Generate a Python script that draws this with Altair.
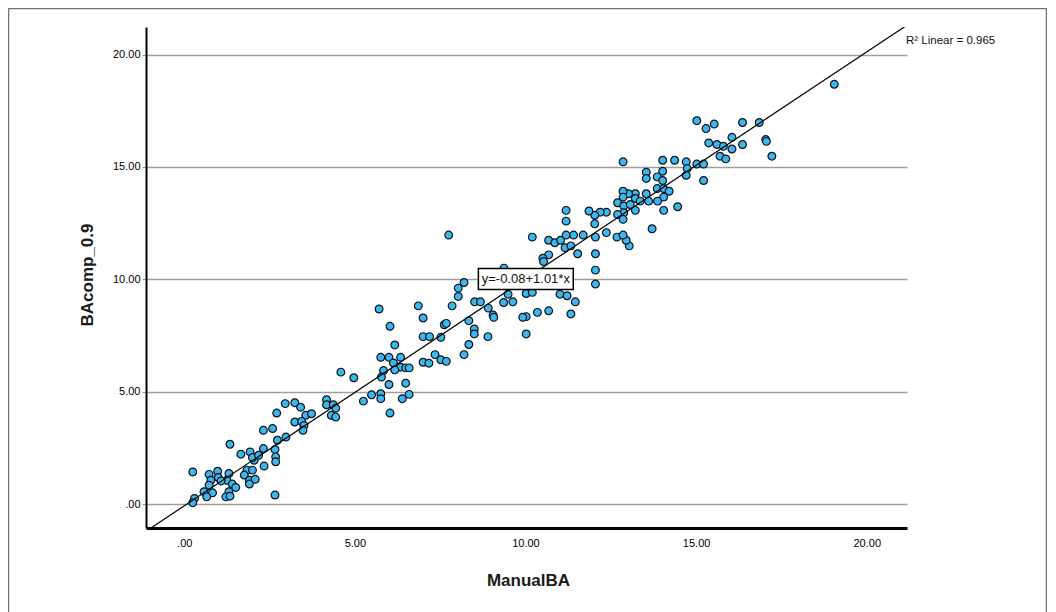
import altair as alt
import pandas as pd

# ManualBA (x) and BAcomp_0.9 (y) values
manual_ba = [
    4.59, 4.97, 4.17, 4.17, 4.37, 4.44, 4.31, 4.44, 2.96, 3.24, 3.41, 2.71, 3.56, 3.73,
    3.24, 3.44, 3.51, 3.48, 2.32, 2.59, 2.98, 2.73, 1.34, 1.66, 1.93, 2.32, 2.66, 2.68,
    2.68, 2.05, 2.00, 2.18, 2.34, 1.84, 2.00, 1.76, 1.91, 2.08, 1.91, 0.25, 0.73, 0.98,
    1.00, 1.31, 1.25, 0.78, 0.73, 1.08, 1.41, 1.51, 1.31, 0.58, 0.83, 0.66, 1.22, 1.34,
    2.66, 0.30, 0.25,
    7.75, 10.20, 10.68, 10.86, 11.03, 11.19, 11.41, 11.69, 12.05, 12.37, 12.68, 11.16,
    11.33, 11.53, 12.05, 10.68, 10.51, 10.53, 9.37, 12.05, 12.05, 8.20, 8.03, 8.03, 9.49,
    10.02, 10.20, 11.01, 11.22, 11.46, 11.33, 10.68, 10.35, 10.02, 9.92, 10.02, 9.36,
    9.63, 8.51, 8.68, 8.91, 9.05, 9.07, 7.85, 6.86, 5.71, 7.00, 7.62, 7.68, 8.34, 6.03,
    8.50, 8.50, 7.00, 7.19, 7.52, 8.90, 8.34, 6.17, 8.20, 7.35, 7.52, 7.68, 7.00, 7.17,
    5.76, 6.00, 6.34, 6.13, 6.34, 6.17, 6.49, 6.59, 5.84, 5.78, 6.49, 6.00, 6.59, 6.39,
    5.76, 5.76, 5.49, 5.25, 6.03,
    19.05, 15.02, 15.29, 15.53, 16.36, 16.85, 16.05, 17.04, 17.06, 17.22, 16.36, 16.05,
    15.37, 15.61, 15.80, 15.70, 15.87, 12.86, 14.02, 14.37, 14.71, 15.02, 15.22, 14.74,
    14.71, 15.22, 13.54, 13.54, 14.02, 13.86, 14.02, 13.86, 14.05, 14.21, 14.05, 14.05,
    14.46, 13.71, 13.54, 13.87, 13.61, 13.22, 13.02, 12.86, 12.86, 13.22, 13.36, 12.70,
    12.88, 13.07, 13.22, 12.88, 12.70, 12.86, 13.04, 12.95, 12.86, 12.37, 12.19, 12.03,
    12.03, 11.86, 11.19, 11.19,
]
bacomp_09 = [
    5.87, 5.62, 4.64, 4.42, 4.42, 4.27, 3.95, 3.87, 4.47, 4.51, 4.31, 4.05, 3.95, 4.02,
    3.65, 3.68, 3.50, 3.28, 3.28, 3.36, 2.98, 2.84, 2.66, 2.22, 2.32, 2.47, 2.43, 2.10,
    1.88, 1.95, 2.07, 2.17, 1.69, 1.51, 1.51, 1.29, 1.06, 1.10, 0.89, 1.43, 1.32, 1.46,
    1.18, 1.36, 1.06, 1.06, 0.84, 1.03, 0.89, 0.74, 0.55, 0.55, 0.50, 0.32, 0.32, 0.35,
    0.40, 0.25, 0.06,
    11.97, 11.88, 11.74, 11.63, 11.74, 11.97, 11.97, 11.97, 11.88, 12.08, 11.88, 11.41,
    11.49, 11.14, 11.14, 11.09, 10.94, 10.79, 10.50, 10.41, 9.79, 9.86, 9.61, 9.24, 9.34,
    9.37, 9.42, 9.34, 9.27, 9.00, 8.46, 8.60, 8.53, 8.34, 8.31, 7.57, 8.97,
    9.00, 9.00, 9.00, 8.72, 8.41, 8.31, 8.82, 8.82, 8.68, 8.28, 7.98, 8.04, 8.16, 7.91,
    7.79, 7.57, 7.45, 7.45, 7.42, 7.45, 7.10, 7.08, 6.65, 6.65, 6.42, 6.35, 6.31, 6.27,
    6.53, 6.53, 6.53, 6.28, 6.09, 5.97, 6.06, 6.06, 5.94, 5.65, 5.38, 5.32, 4.88, 4.69,
    4.91, 4.69, 4.86, 4.58, 4.05,
    18.68, 17.06, 16.71, 16.91, 16.98, 16.98, 16.32, 16.22, 16.14, 15.48, 16.00, 15.80,
    16.07, 16.00, 15.92, 15.48, 15.36, 15.23, 15.30, 15.30, 15.23, 15.13, 15.13, 14.93,
    14.63, 14.40, 14.77, 14.49, 14.81, 14.56, 14.40, 14.04, 14.04, 13.92, 13.66, 13.07,
    13.23, 12.25, 13.81, 13.48, 13.48, 13.81, 13.81, 13.92, 13.66, 13.60, 13.48, 13.41,
    13.26, 13.33, 13.07, 12.96, 12.89, 12.67, 11.49, 11.74, 11.97, 12.99, 12.99, 12.85,
    12.47, 13.04, 13.07, 12.59,
]

# Fit line as stated on the chart
intercept = -0.08
slope = 1.01
r2_text = "R\u00b2 Linear = 0.965"
eq_text = "y=-0.08+1.01*x"
ticks = [0, 5, 10, 15, 20]

x_dom = [-1.12, 21.18]
y_dom = [-1.066, 21.23]

W, H = 761, 501
PAD = {"left": 138, "top": 19, "right": 140, "bottom": 84}

pts = pd.DataFrame({"manual": manual_ba, "comp": bacomp_09})
line_x = [-1.3, 21.6]
line_df = pd.DataFrame({"manual": line_x, "comp": [intercept + slope * v for v in line_x]})

label_expr = "datum.value == 0 ? '.00' : format(datum.value, '.2f')"

xscale = alt.Scale(domain=x_dom, nice=False, zero=False)
yscale = alt.Scale(domain=y_dom, nice=False, zero=False)

x_enc = alt.X(
    "manual:Q", scale=xscale,
    axis=alt.Axis(
        values=ticks, labelExpr=label_expr, ticks=False, grid=False,
        domainColor="#000000", domainWidth=3, labelFontSize=11, labelColor="#000000",
        labelFont="Liberation Sans", labelPadding=9,
        title="ManualBA", titleFontSize=17, titleFontWeight="bold", titleFont="Liberation Sans",
        titleColor="#1a1a1a", titleX=382, titleY=52, titleBaseline="middle", titleAlign="center",
    ),
)
y_enc = alt.Y(
    "comp:Q", scale=yscale,
    axis=alt.Axis(
        values=ticks, labelExpr=label_expr, ticks=True, tickSize=4, tickColor="#9e9e9e",
        grid=True, gridColor="#9e9e9e", gridWidth=1.5,
        domainColor="#000000", domainWidth=2, labelFontSize=11, labelColor="#000000",
        labelFont="Liberation Sans", labelPadding=2,
        title="BAcomp_0.9", titleFontSize=17, titleFontWeight="bold", titleFont="Liberation Sans",
        titleColor="#1a1a1a", titleX=-59, titleY=H / 2 - 3, titleAngle=-90,
        titleBaseline="middle", titleAlign="center",
    ),
)

points = alt.Chart(pts).mark_point(
    filled=True, shape="circle", size=60, fill="#3db6ee", stroke="#0b121a",
    strokeWidth=1.2, opacity=1,
).encode(x=x_enc, y=y_enc)

fit = alt.Chart(line_df).mark_line(color="#000000", strokeWidth=1.2, clip=True).encode(
    x=alt.X("manual:Q", scale=xscale),
    y=alt.Y("comp:Q", scale=yscale),
)

box_df = pd.DataFrame({"x1": [8.62], "x2": [11.40], "y1": [9.55], "y2": [10.48],
                       "tx": [10.01], "ty": [10.0], "t": [eq_text]})
box = alt.Chart(box_df).mark_rect(fill="white", stroke="#000000", strokeWidth=1.5).encode(
    x=alt.X("x1:Q", scale=xscale), x2="x2:Q",
    y=alt.Y("y1:Q", scale=yscale), y2="y2:Q",
)
box_text = alt.Chart(box_df).mark_text(
    fontSize=13, font="Liberation Sans", color="#111111", align="center", baseline="middle"
).encode(
    x=alt.X("tx:Q", scale=xscale), y=alt.Y("ty:Q", scale=yscale), text="t:N"
)

one = pd.DataFrame({"t": [r2_text]})
r2 = alt.Chart(one).mark_text(
    fontSize=11.5, font="Liberation Sans", color="#111111", align="left", baseline="middle"
).encode(x=alt.value(760), y=alt.value(14), text="t:N")

frame_color = "#707070"
frame_top = alt.Chart(one).mark_rule(color=frame_color, strokeWidth=1.5).encode(
    x=alt.value(-137.5), x2=alt.value(W + 139.5), y=alt.value(-18.5)
)
frame_left = alt.Chart(one).mark_rule(color=frame_color, strokeWidth=1.5).encode(
    x=alt.value(-137.5), y=alt.value(-18.5), y2=alt.value(H + 90)
)
frame_right = alt.Chart(one).mark_rule(color=frame_color, strokeWidth=1.5).encode(
    x=alt.value(W + 139.5), y=alt.value(-18.5), y2=alt.value(H + 90)
)

chart = alt.layer(
    points, fit, box, box_text, r2, frame_top, frame_left, frame_right
).properties(
    width=W, height=H,
    autosize=alt.AutoSizeParams(type="none"),
    padding=PAD,
    background="white",
).configure_view(stroke=None)

chart.save("out.html", embed_options={"renderer": "svg", "actions": False})
